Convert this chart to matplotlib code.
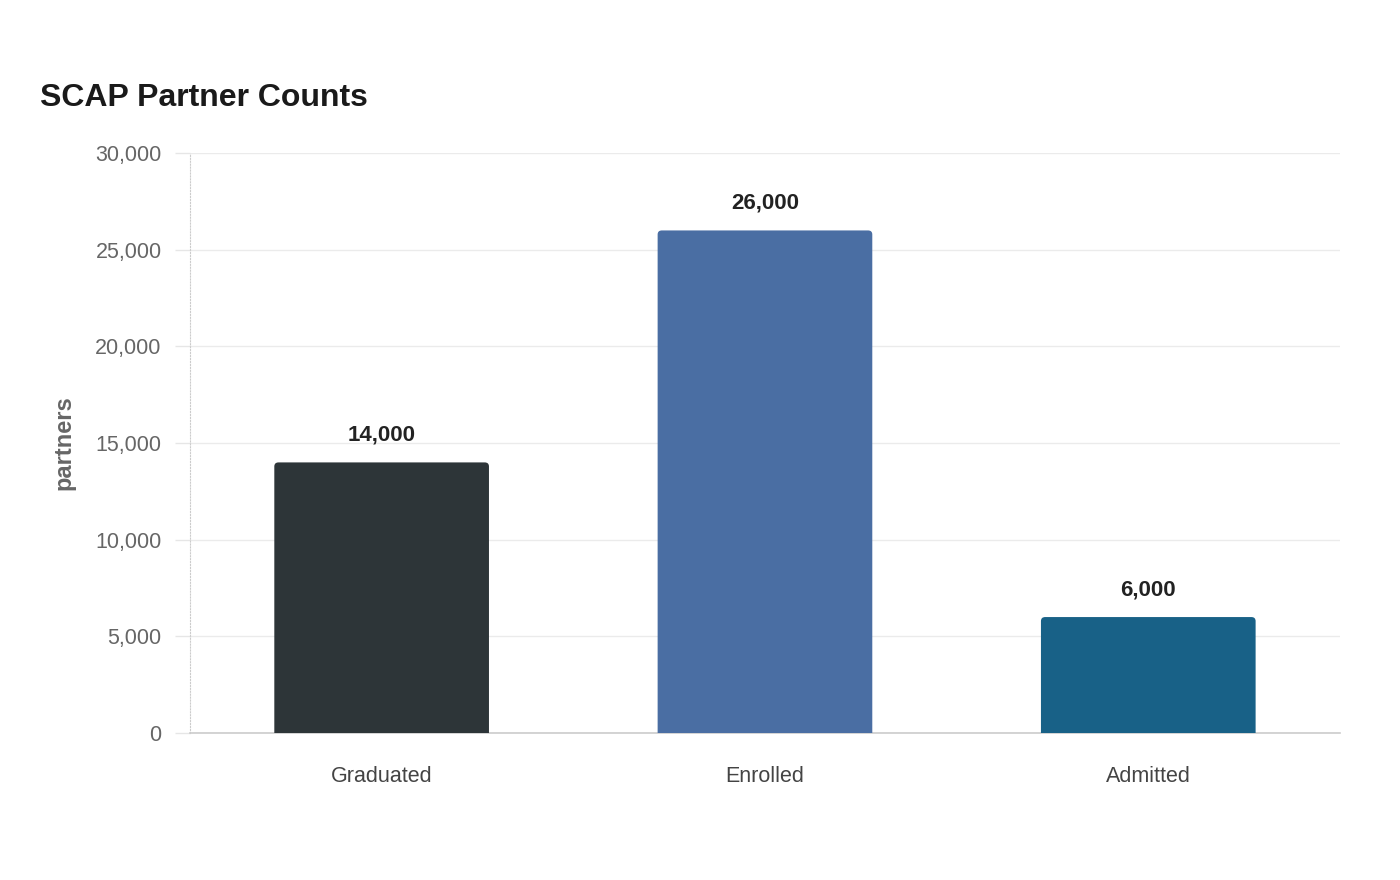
import matplotlib
matplotlib.use('Agg')
import matplotlib.pyplot as plt
from matplotlib.patches import PathPatch
from matplotlib.path import Path

# data
categories = ['Graduated', 'Enrolled', 'Admitted']
partners = [14000, 26000, 6000]
bar_colors = ['#2d3538', '#4a6ea3', '#186187']

plt.rcParams['font.family'] = ['Liberation Sans', 'DejaVu Sans']

fig = plt.figure(figsize=(14, 8.8), dpi=100)
ax = fig.add_axes([0.1357, 0.167, 0.8214, 0.659])

ax.set_xlim(-0.5, len(categories) - 0.5)
ax.set_ylim(0, 30000)


def top_rounded_bar(x0, w, h, rx, ry):
    # bar with rounded top corners, square bottom
    verts = [(x0, 0), (x0, h - ry), (x0, h), (x0 + rx, h),
             (x0 + w - rx, h), (x0 + w, h), (x0 + w, h - ry),
             (x0 + w, 0), (x0, 0)]
    codes = [Path.MOVETO, Path.LINETO, Path.CURVE3, Path.CURVE3,
             Path.LINETO, Path.CURVE3, Path.CURVE3,
             Path.LINETO, Path.CLOSEPOLY]
    return Path(verts, codes)


width = 0.56
rx = 0.011      # corner radius in x data units (~4px)
ry = 210        # corner radius in y data units (~4px)
for i, (v, c) in enumerate(zip(partners, bar_colors)):
    x0 = i - width / 2
    ax.add_patch(PathPatch(top_rounded_bar(x0, width, v, rx, ry),
                           facecolor=c, edgecolor='none', zorder=3))
    ax.annotate(f'{v:,}', xy=(i, v), xytext=(0, 12), textcoords='offset points',
                ha='center', va='bottom', fontsize=16, fontweight='bold',
                color='#222222')

ax.set_xticks(range(len(categories)))
ax.set_xticklabels(categories, fontsize=15.5, color='#444444')
ax.tick_params(axis='x', length=0, pad=24)

ax.set_yticks(range(0, 30001, 5000))
ax.set_yticklabels([f'{t:,}' for t in range(0, 30001, 5000)], fontsize=15.5, color='#666666')
ax.tick_params(axis='y', length=11, color='#e6e6e6', width=1, pad=9.5)

ax.grid(axis='y', color='#ebebeb', linewidth=1, zorder=0)
ax.set_axisbelow(True)

for s in ['top', 'right']:
    ax.spines[s].set_visible(False)
ax.spines['left'].set_color('#cccccc')
ax.spines['left'].set_linestyle(':')
ax.spines['left'].set_linewidth(0.8)
ax.spines['bottom'].set_color('#cccccc')
ax.spines['bottom'].set_linewidth(1.2)

ax.set_ylabel('partners', fontsize=17, fontweight='bold', color='#666666', labelpad=14)

fig.text(40 / 1400, 1 - 98 / 880, 'SCAP Partner Counts', fontsize=23,
         fontweight='bold', color='#1a1a1a', ha='left', va='center')

plt.savefig('out.png', dpi=100)
plt.close()
